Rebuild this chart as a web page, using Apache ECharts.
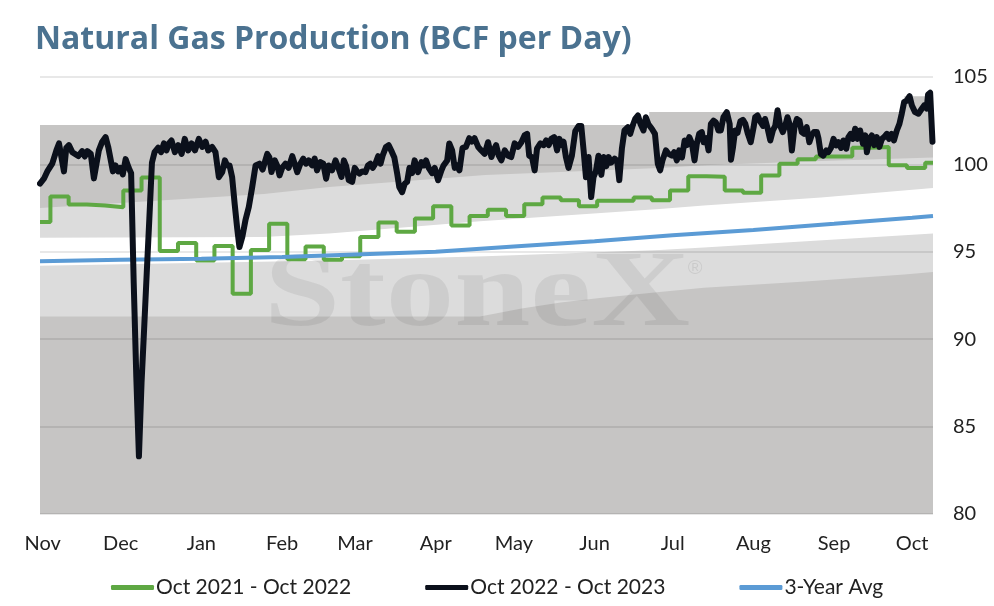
<!DOCTYPE html>
<html>
<head>
<meta charset="utf-8">
<script src="https://cdn.jsdelivr.net/npm/echarts@6/dist/echarts.min.js"></script>
<style>html,body{margin:0;padding:0;background:#fff}#chart{width:994px;height:606px}</style>
</head>
<body>
<div id="chart"></div>
<script>
// x values are days since 1 Nov
var monthStartDays = [0, 30, 61, 92, 120, 151, 181, 212, 242, 273, 304, 334];
var monthLabels = ['Nov','Dec','Jan','Feb','Mar','Apr','May','Jun','Jul','Aug','Sep','Oct'];
var yTicks = [80, 85, 90, 95, 100, 105];

var seriesNames = ['Oct 2021 - Oct 2022', 'Oct 2022 - Oct 2023', '3-Year Avg'];

var blackDays = [-1,0.5,1.8,3.7,5.3,6.3,8.2,9.1,10.1,11.4,13.7,15.2,16.2,17.2,18.5,19.7,21.6,22.9,24.2,25.2,27,28,29,29.9,30.8,31.9,33.1,
34,35,36,37,38,39,40,41,42,43,44.4,45.5,46.6,47.6,48.5,49.5,50.8,52.1,53.4,54.6,55.9,57.2,58.5,60,61.3,62.6,63.6,65.1,66.4,67.7,69,70,70.9,71.8,72.8,
73.8,74.7,75.6,76.7,77.9,79.2,80.5,81.8,83.3,84.5,86.3,87.1,87.9,89.2,90.2,91,92,93.3,94.5,95.9,96.9,97.8,99,100.1,101.2,102.2,103.5,104.5,105.4,
106.7,107.8,108.9,109.9,111.2,112.5,113.6,114.8,115.7,116.6,117.6,118.9,119.9,120.8,121.7,122.8,124,125,125.9,126.8,127.8,128.9,129.8,130.6,131.9,
132.9,134.2,135.1,136.2,137,138.1,139.1,140,140.9,141.9,142.9,144.2,145.5,146.4,147.3,148.3,149.6,150.6,151.9,153.2,154,155.4,156.2,157.3,158.3,
159.2,160.1,161.3,162.6,163.9,164.9,165.9,167.3,168.5,169.8,171.1,172.4,173.2,174.2,175.2,176.2,177.5,178.8,180,181.3,182.6,183.9,185.1,186.1,
186.9,188,189,189.9,191.2,192.4,193.4,194.4,195.4,196.5,197.6,198.5,199.5,200.1,201,202,203.3,204.6,205.9,206.9,207.8,208.7,209.7,210.7,211.6,
212.5,213.5,214.6,215.5,216.5,217.4,218.4,219.7,220.7,221.5,222.5,223.5,224.8,225.7,226.6,227.6,228.7,229.6,230.8,231.7,232.7,234,235.2,236.3,
237.2,238.1,239.4,240.4,241.7,242.6,243.6,244.5,245.6,246.6,247.5,248.4,249.4,250.4,251.3,252.2,253.2,253.9,254.9,255.8,256.7,257.7,258.6,259.6,
260.5,261.5,262.8,263.9,264.4,265.2,266,266.9,268,269,269.9,270.8,272,273.1,273.7,274.6,275.6,276.7,277.5,278.4,279.5,280.5,281.4,282.3,283.3,
284.3,285.2,286.1,286.9,287.8,288.8,289.7,290.7,291.6,292.5,293.5,294.5,295.4,296.3,297.4,298,298.9,299.9,301,301.8,302.8,303.8,304.8,305.7,
306.7,307.6,308.7,309.5,310.4,311.2,312.1,313,314,315.1,316,316.6,317.6,318.5,319.4,320.4,321.4,322.4,323.2,324.3,325.1,326.1,327,328.1,329.1,
330,330.9,331.9,333,333.9,335.1,336.4,337.7,338.6,339.6,340.1,340.9,341.8];
var blackValues = [98.9,99.18,99.6,100.04,100.8,101.2,99.6,100.95,101.1,100.7,100.48,100.76,100.45,100.76,100.6,99.2,100.8,101.3,101.56,101.0,99.6,99.94,99.6,99.8,99.43,100.3,99.8,
99.5,93.2,87.8,83.3,87.5,90.6,93.8,96.9,100.1,100.7,100.95,100.7,101.2,100.8,101.2,101.37,100.7,101.1,100.6,101.46,100.8,101.2,100.8,101.46,101.0,101.3,100.8,101.0,100.7,99.27,99.56,100.23,99.94,99.94,99.27,
97.7,96.4,95.27,95.85,96.8,97.56,98.7,99.94,100.04,99.7,100.6,100.4,99.56,100.23,99.9,99.37,99.8,100.04,99.8,100.47,100.0,99.56,100.04,100.33,100.04,100.23,99.94,100.33,99.66,
100.13,100.04,99.18,99.94,99.66,100.23,99.8,99.28,100.23,99.9,99.1,99.0,99.8,99.6,99.47,99.6,99.56,99.94,100.04,99.8,100.04,100.47,100.04,100.5,101.0,
101.1,100.7,100.4,99.47,98.7,98.41,98.9,99.0,99.8,99.5,100.23,99.56,100.13,99.94,100.23,99.8,99.5,99.8,99.09,99.66,99.94,100.23,101.2,100.8,99.8,
99.94,99.66,100.95,101.0,101.5,101.3,101.5,101.0,100.8,100.6,101.27,100.42,100.8,101.1,100.5,100.23,100.8,100.5,100.42,101.2,101.0,101.27,101.66,101.75,
100.5,100.4,99.66,100.9,101.2,101.1,101.37,101.1,101.46,101.56,100.8,101.46,101.1,101.3,100.42,99.8,100.5,101.9,102.2,102.2,100.8,99.27,100.42,98.13,99.27,
99.6,100.5,99.4,100.42,99.9,100.42,100.1,100.33,100.2,99.1,100.9,101.94,102.13,101.75,102.2,102.6,102.8,102.32,101.94,102.7,102.3,102.04,101.75,100.04,
99.66,100.23,100.8,100.6,100.5,100.7,100.23,100.8,100.4,101.37,101.1,101.56,101.2,100.23,101.2,101.75,101.85,101.27,101.5,100.8,102.32,102.5,102.4,101.94,
101.94,102.7,102.99,102.32,100.27,101.0,101.94,101.8,102.46,102.55,102.32,101.8,101.27,102.13,102.7,102.8,102.46,102.2,102.6,102.1,101.37,101.94,102.2,103.1,102.2,
101.85,102.2,102.7,102.3,100.8,102.13,102.6,102.5,101.85,101.75,102.13,101.27,101.66,101.85,101.85,101.5,100.6,100.5,100.8,100.7,100.94,101.46,101.08,101.27,
100.94,101.37,100.9,101.56,101.75,101.46,102.04,101.46,101.94,101.18,101.66,100.7,101.46,101.66,101.1,101.56,101.0,101.46,101.56,101.75,101.46,101.75,101.37,101.94,102.32,
102.9,103.56,103.65,103.9,103.37,102.99,102.9,103.18,103.37,103.2,104.0,104.1,101.3];

var greenDays = [-1,3,10,17,24,31,38,45,52,59,66,73,80,87,94,101,108,115,122,129,136,143,150,157,164,171,178,185,192,199,
206,213,220,227,234,241,248,255,262,269,276,283,290,297,304,311,318,325,332,339,342];
var greenValues = [96.7,98.17,97.7,97.65,97.55,98.5,99.25,95.05,95.5,94.5,95.33,92.6,95.1,96.6,94.58,95.3,94.55,94.75,95.85,96.68,
96.15,96.9,97.6,96.5,97.05,97.4,97.05,97.72,98.1,97.95,97.6,97.92,97.92,98.1,97.95,98.5,99.32,99.3,98.5,98.38,
99.36,100.04,100.3,100.45,100.45,100.95,101.0,99.95,99.8,100.1,100.1];

var blueDays = [-1,30,61,92,120,151,181,212,242,273,304,334,342];
var blueValues = [94.46,94.55,94.6,94.7,94.85,95.0,95.3,95.6,95.95,96.25,96.6,96.95,97.05];

// shaded range boundaries (top to bottom)
var band5Days = [-1,233,331,342];
var band5Values = [102.25,103.0,103.9,103.9];
var band4Days = [-1,85,110,170,237,254,299,342];
var band4Values = [97.5,98.3,98.7,99.4,99.8,99.95,100.2,100.4];
var band3Days = [-1,85,110,168,237,254,299,342];
var band3Values = [95.8,95.85,96.05,96.75,97.45,97.65,98.1,98.65];
var band2Days = [-1,110,170,237,254,342];
var band2Values = [94.2,94.5,94.75,95.1,95.25,96.05];
var band1Days = [-1,168,184,199,214,237,254,293,331,342];
var band1Values = [91.3,91.3,91.75,92.1,92.35,92.7,92.95,93.3,93.7,93.85];

function pairs(xs, ys){ return xs.map(function(x,i){ return [x, ys[i]]; }); }

var DARK = '#c6c5c4', LIGHT = '#dcdcdc', WHITE = '#ffffff';
function band(name, xs, ys, color, step){
  return {
    name: name, type: 'line', data: pairs(xs, ys), step: step || false,
    symbol: 'none', silent: true, z: 0,
    lineStyle: {width: 0, opacity: 0},
    areaStyle: {color: color, opacity: 1, origin: 'start'},
    emphasis: {disabled: true}
  };
}

var FONT = 'Lato, "Open Sans", sans-serif';
var chart = echarts.init(document.getElementById('chart'), null, {renderer: 'canvas'});
chart.setOption({
  animation: false,
  backgroundColor: '#ffffff',
  title: {
    text: 'Natural Gas Production (BCF per Day)',
    left: 30, top: 19,
    textStyle: {fontFamily: '"Open Sans", Lato, sans-serif', fontSize: 32, fontWeight: 'bold', color: '#4b7290'}
  },
  grid: {left: 40, right: 61, top: 77, bottom: 92, containLabel: false},
  xAxis: {
    type: 'value', min: -1, max: 342,
    axisLine: {show: false}, axisTick: {show: false}, splitLine: {show: false},
    axisLabel: {
      customValues: monthStartDays,
      formatter: function(v){ var i = monthStartDays.indexOf(v); return i >= 0 ? monthLabels[i] : ''; },
      fontFamily: FONT, fontSize: 20, color: '#222', margin: 20
    }
  },
  yAxis: {
    type: 'value', position: 'right', min: yTicks[0], max: yTicks[yTicks.length-1], interval: 5, z: 1,
    axisLine: {show: false}, axisTick: {show: false},
    splitLine: {show: true, lineStyle: {color: 'rgba(0,0,0,0.09)', width: 2}},
    axisLabel: {fontFamily: FONT, fontSize: 20, color: '#222', margin: 20}
  },
  legend: {
    data: seriesNames.map(function(n){ return {name: n, icon: 'roundRect'}; }),
    top: 572, left: 106,
    itemWidth: 43, itemHeight: 5, itemGap: 74,
    textStyle: {fontFamily: FONT, fontSize: 21, color: '#222', padding: [0,0,0,-3]}
  },
  graphic: [
    {type: 'text', x: 477, y: 297, scaleX: 1.28, z: 1, silent: true,
     style: {text: 'StoneX', font: 'bold 107px "Liberation Serif", "DejaVu Serif", serif', fill: 'rgba(0,0,0,0.065)', textAlign: 'center', textVerticalAlign: 'middle'}},
    {type: 'text', x: 695, y: 268, z: 1, silent: true,
     style: {text: '®', font: '20px "Liberation Sans", sans-serif', fill: 'rgba(0,0,0,0.08)', textAlign: 'center', textVerticalAlign: 'middle'}}
  ],
  series: [
    band('b5', band5Days, band5Values, DARK, 'end'),
    band('b4', band4Days, band4Values, LIGHT),
    band('b3', band3Days, band3Values, WHITE),
    band('b2', band2Days, band2Values, LIGHT),
    band('b1', band1Days, band1Values, DARK),
    {name: seriesNames[0], type: 'line', data: pairs(greenDays, greenValues), step: 'end',
     symbol: 'none', z: 3, color: '#5ea843', lineStyle: {width: 4, color: '#5ea843'}},
    {name: seriesNames[2], type: 'line', data: pairs(blueDays, blueValues),
     symbol: 'none', z: 3, color: '#5b9bd5', lineStyle: {width: 4, color: '#5b9bd5'}},
    {name: seriesNames[1], type: 'line', data: pairs(blackDays, blackValues),
     symbol: 'none', z: 4, color: '#0b101b', lineStyle: {width: 6, color: '#0b101b', join: 'round', cap: 'round'}}
  ]
});
</script>
</body>
</html>
